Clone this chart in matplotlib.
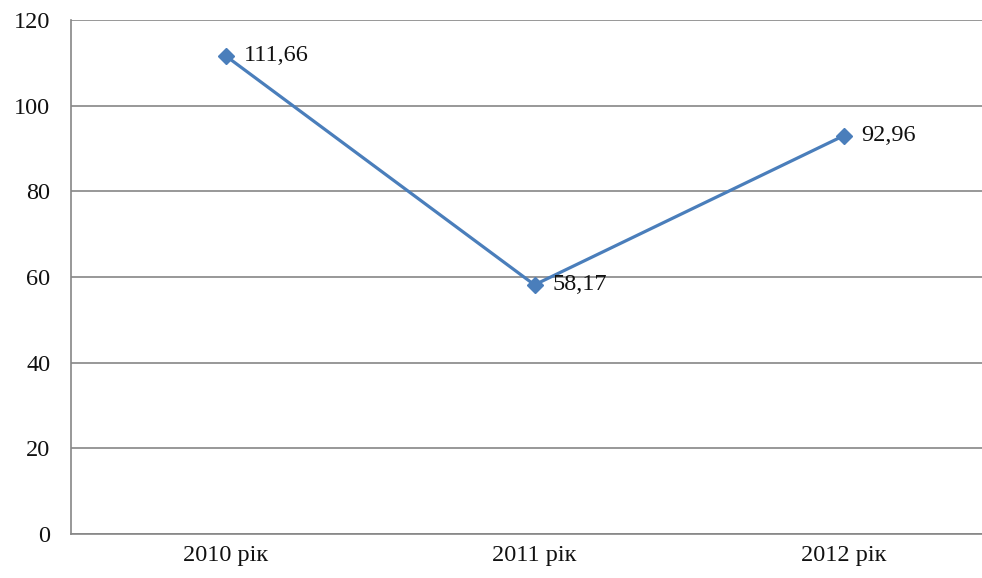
import matplotlib.pyplot as plt

plt.rcParams['font.family'] = ['Liberation Serif', 'DejaVu Serif']

years = ['2010 рік', '2011 рік', '2012 рік']
values = [111.66, 58.17, 92.96]
value_labels = ['111,66', '58,17', '92,96']
y_ticks = [0, 20, 40, 60, 80, 100, 120]

fig = plt.figure(figsize=(9.82, 5.78), dpi=100)
ax = fig.add_axes([71 / 982, 44 / 578, 927 / 982, 514 / 578])

x = list(range(len(years)))
ax.plot(x, values, color='#4A7EBB', linewidth=2.3, marker='D',
        markersize=8, zorder=3)
for xi, v, lab in zip(x, values, value_labels):
    ax.annotate(lab, (xi, v), xytext=(13, 0), textcoords='offset points',
                va='center', ha='left', fontsize=17.5, color='#111111')

ax.set_xlim(-0.5, 2.5)
ax.set_ylim(0, 120)
ax.set_xticks(x)
ax.set_xticklabels(years, fontsize=17.5, color='#111111')
ax.set_yticks(y_ticks)
ax.set_yticklabels([str(t) for t in y_ticks], fontsize=17.5, color='#111111')
ax.tick_params(axis='x', length=0, pad=8)
ax.tick_params(axis='y', length=0, pad=15)
ax.yaxis.grid(True, color='#868686', linewidth=1.2)
ax.set_axisbelow(True)
for side in ['top', 'right']:
    ax.spines[side].set_visible(False)
for side in ['left', 'bottom']:
    ax.spines[side].set_color('#868686')
    ax.spines[side].set_linewidth(1.2)

fig.savefig('out.png', dpi=100)
plt.close(fig)
